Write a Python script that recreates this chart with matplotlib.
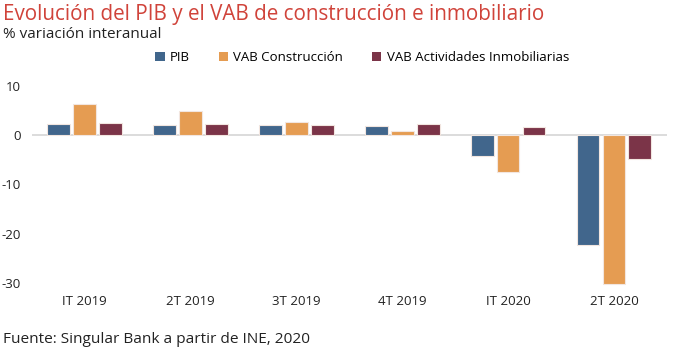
import matplotlib
matplotlib.use("Agg")
import matplotlib.pyplot as plt
import numpy as np

plt.rcParams['font.family'] = ['Open Sans', 'DejaVu Sans']

categories = ["IT 2019", "2T 2019", "3T 2019", "4T 2019", "IT 2020", "2T 2020"]
pib = [2.2, 2.1, 2.1, 1.9, -4.2, -22.2]
construccion = [6.4, 4.8, 2.7, 0.9, -7.5, -30.1]
inmobiliarias = [2.5, 2.3, 2.1, 2.2, 1.7, -4.8]
series_names = ["PIB", "VAB Construcción", "VAB Actividades Inmobiliarias"]
colors = ["#41668C", "#E59C52", "#7B3448"]
yticks = [10, 0, -10, -20, -30]

fig = plt.figure(figsize=(6.77, 3.51), dpi=100)
ax = fig.add_axes([0.047, 0.1795, 0.938, 0.604])

x = np.arange(len(categories))
w = 0.215
off = 0.245
for i, (vals, name, c) in enumerate(zip([pib, construccion, inmobiliarias], series_names, colors)):
    ax.bar(x + (i - 1) * off, vals, width=w, color=c, label=name,
           edgecolor="#F2E6E0", linewidth=0.8, zorder=3)

ax.axhline(0, color="#D9D9D9", linewidth=1.3, zorder=2)
ax.set_xlim(-0.5, len(categories) - 0.5)
ax.set_ylim(-31, 12)
ax.set_yticks(yticks)
ax.set_yticklabels([str(t) for t in yticks])
ax.set_xticks(x)
ax.set_xticklabels(categories)
ax.tick_params(axis='both', length=0, labelsize=9.5, colors="#222222")
ax.tick_params(axis='y', pad=8)
ax.tick_params(axis='x', pad=5)
for s in ax.spines.values():
    s.set_visible(False)

fig.text(0.005, 0.958, "Evolución del PIB y el VAB de construcción e inmobiliario",
         color="#D0433A", fontsize=14.9, va="center", ha="left")
fig.text(0.005, 0.903, "% variación interanual", color="#222222", fontsize=11,
         va="center", ha="left")
fig.text(0.005, 0.032, "Fuente: Singular Bank a partir de INE, 2020", color="#222222",
         fontsize=11.1, va="center", ha="left")

leg = fig.legend(loc="center", bbox_to_anchor=(0.535, 0.835), ncol=3, frameon=False,
                 fontsize=9.5, handlelength=0.7, handleheight=0.7, handletextpad=0.4,
                 columnspacing=2.2)
for h in leg.legend_handles:
    h.set_edgecolor("none")

fig.savefig("out.png", dpi=100)
